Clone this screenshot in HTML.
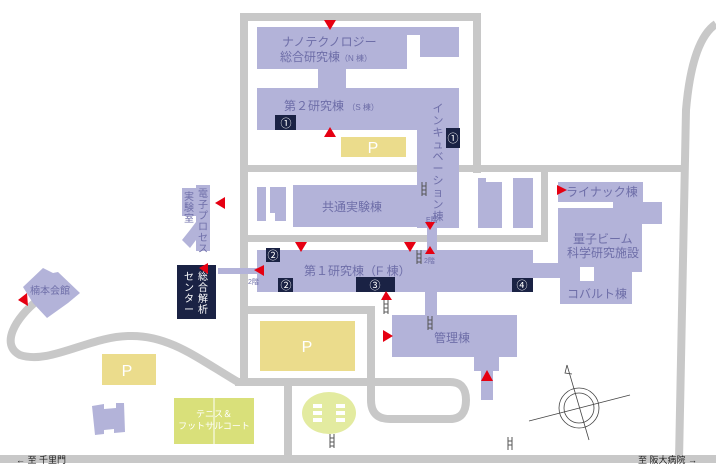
<!DOCTYPE html>
<html><head><meta charset="utf-8"><style>
html,body{margin:0;padding:0;background:#fff}
svg{display:block}
text{font-family:"Liberation Sans","Noto Sans CJK JP",sans-serif}
</style></head><body>
<svg width="716" height="475" viewBox="0 0 716 475" xmlns="http://www.w3.org/2000/svg">
<rect width="716" height="475" fill="#fff"/>
<g fill="#c8c8c8">
<rect x="240" y="13" width="241" height="8"/>
<rect x="240" y="13" width="8" height="372"/>
<rect x="473" y="13" width="8" height="160"/>
<rect x="248" y="165" width="300" height="7"/>
<rect x="541" y="165" width="7" height="76"/>
<rect x="248" y="235" width="300" height="7"/>
<rect x="248" y="306" width="127" height="8"/>
<rect x="548" y="165" width="134" height="7"/>
<rect x="235" y="378" width="140" height="8"/>
<rect x="284" y="385" width="8" height="72"/>
<rect x="0" y="455" width="716" height="8"/>
</g>
<g fill="none" stroke="#c8c8c8" stroke-width="8">
<path d="M371,306 L371,400 Q371,419 390,419 L450,419 Q466,419 466,400 Q466,382 450,382 L375,382"/>
<path d="M238,382 C200,360 170,335 130,336 C90,336 50,365 20,355 C0,345 15,318 38,300"/>
<path d="M716,24 Q692,40 686,110 L679,460"/>
</g>
<g fill="#ebdc8c">
<rect x="341" y="137" width="65" height="20"/>
<rect x="260" y="321" width="95" height="50"/>
<rect x="102" y="354" width="54" height="31"/>
</g>
<g fill="#fff" font-size="16" text-anchor="middle">
<text x="373" y="153">P</text><text x="307" y="352">P</text><text x="127" y="376">P</text>
</g>
<rect x="174" y="398" width="80" height="46" fill="#d9e07a"/>
<line x1="214" y1="398" x2="214" y2="444" stroke="#fff"/>
<text x="214" y="417" font-size="9" fill="#fff" text-anchor="middle">テニス＆</text>
<text x="214" y="429" font-size="9" fill="#fff" text-anchor="middle">フットサルコート</text>
<ellipse cx="329" cy="413" rx="27" ry="21" fill="#e3eba0"/>
<g fill="#fff"><rect x="313" y="404" width="9" height="4"/><rect x="336" y="404" width="9" height="4"/><rect x="313" y="411" width="9" height="4"/><rect x="336" y="411" width="9" height="4"/><rect x="313" y="418" width="9" height="4"/><rect x="336" y="418" width="9" height="4"/></g>
<g fill="#b3b3d9">
<rect x="257" y="27" width="150" height="42"/>
<rect x="257" y="27" width="202" height="8"/>
<rect x="420" y="27" width="39" height="30"/>
<rect x="318" y="69" width="28" height="20"/>
<rect x="257" y="88" width="202" height="42"/>
<rect x="417" y="88" width="42" height="140"/>
<rect x="427" y="226" width="10" height="26"/>
<rect x="293" y="185" width="124" height="42"/>
<rect x="257" y="187" width="9" height="34"/>
<rect x="270" y="187" width="16" height="34"/>
<rect x="478" y="178" width="24" height="50"/>
<rect x="513" y="178" width="20" height="50"/>
<rect x="558" y="182" width="85" height="20"/>
<rect x="613" y="202" width="49" height="22"/>
<rect x="558" y="208" width="84" height="64"/>
<rect x="560" y="272" width="72" height="32"/>
<rect x="257" y="250" width="276" height="42"/>
<rect x="530" y="263" width="32" height="15"/>
<rect x="425" y="292" width="12" height="24"/>
<rect x="392" y="315" width="125" height="42"/>
<rect x="474" y="357" width="25" height="14"/>
<rect x="481" y="370" width="12" height="30"/>
<rect x="218" y="268" width="40" height="6"/>
<rect x="196" y="185" width="14" height="66"/>
<rect x="182" y="188" width="14" height="28"/>
<polygon points="196,222 196,240 190,248 182,240 190,230"/>
<polygon points="23,287 43,268 53,273 58,272 80,293 68,303 47,318 33,303"/>
<polygon points="92,406 104,404 104,409 116,408 116,403 124,403 125,432 114,433 114,429 104,430 104,434 95,435"/>
</g>
<g fill="#fff"><rect x="580" y="267" width="14" height="14"/><rect x="486" y="178" width="16" height="4"/><rect x="270" y="213" width="5" height="8"/></g>
<g fill="#1a2244">
<rect x="177" y="265" width="39" height="54"/>
<rect x="275" y="115" width="21" height="15"/>
<rect x="446" y="128" width="14" height="20"/>
<rect x="266" y="248" width="14" height="14"/>
<rect x="278" y="278" width="15" height="14"/>
<rect x="356" y="277" width="39" height="15"/>
<rect x="512" y="278" width="21" height="14"/>
</g>
<g fill="#fff" font-size="11" text-anchor="middle">
<text x="286" y="127">①</text><text x="453" y="142">①</text><text x="273" y="259">②</text><text x="286" y="289">②</text><text x="375" y="289">③</text><text x="522" y="289">④</text>
</g>
<g fill="#fff" font-size="10" text-anchor="middle">
<text x="203" y="280">総</text><text x="203" y="291">合</text><text x="203" y="302">解</text><text x="203" y="313">析</text>
<text x="189" y="280">セ</text><text x="189" y="291">ン</text><text x="189" y="302">タ</text><text x="189" y="313">ー</text>
</g>
<g fill="#6e6ea8" font-size="12">
<text x="282" y="46">ナノテクノロジー</text>
<text x="280" y="61">総合研究棟<tspan font-size="8">（N 棟）</tspan></text>
<text x="284" y="110">第２研究棟 <tspan font-size="8">（S 棟）</tspan></text>
<text x="322" y="211">共通実験棟</text>
<text x="304" y="275">第１研究棟（F 棟）</text>
<text x="434" y="342">管理棟</text>
<text x="566" y="196">ライナック棟</text>
<text x="573" y="243">量子ビーム</text>
<text x="567" y="257">科学研究施設</text>
<text x="567" y="298">コバルト棟</text>
<text x="30" y="294" font-size="10">楠本会館</text>
</g>
<g fill="#6e6ea8" font-size="11" text-anchor="middle">
<text x="438" y="112">イ</text><text x="438" y="124">ン</text><text x="438" y="136">キ</text><text x="438" y="148">ュ</text><text x="438" y="160">ベ</text><text x="438" y="172">ー</text><text x="438" y="184">シ</text><text x="438" y="196">ョ</text><text x="438" y="208">ン</text><text x="438" y="220">棟</text>
<text x="203" y="197" font-size="10">電</text><text x="203" y="208" font-size="10">子</text><text x="203" y="219" font-size="10">プ</text><text x="203" y="230" font-size="10">ロ</text><text x="203" y="241" font-size="10">セ</text><text x="203" y="252" font-size="10">ス</text>
<text x="189" y="200" font-size="10">実</text><text x="189" y="211" font-size="10">験</text><text x="189" y="222" font-size="10">室</text>
</g>
<g fill="#6e6ea8" font-size="7"><text x="426" y="222">E階</text><text x="424" y="263">2階</text><text x="248" y="284">2階</text></g>
<g stroke="#555" stroke-width="1" fill="none">
<path d="M422,182v14M426,182v14M422,186h4M422,190h4M422,194h4"/>
<path d="M417,250v14M421,250v14M417,254h4M417,258h4M417,262h4"/>
<path d="M384,300v14M388,300v14M384,304h4M384,308h4M384,312h4"/>
<path d="M428,316v14M432,316v14M428,320h4M428,324h4M428,328h4"/>
<path d="M330,434v14M334,434v14M330,438h4M330,442h4M330,446h4"/>
<path d="M508,437v13M512,437v13M508,441h4M508,445h4"/>
</g>
<g stroke="#444" stroke-width="0.8" fill="none">
<circle cx="579" cy="408" r="20"/><circle cx="579" cy="408" r="15"/>
<line x1="529" y1="421" x2="630" y2="395"/><line x1="567" y1="365" x2="589" y2="440"/>
<path d="M567,365 L565,373 L572,374"/>
</g>
<g fill="#e60012">
<polygon points="324,20 336,20 330,30"/>
<polygon points="324,137 336,137 330,127"/>
<polygon points="425,222 435,222 430,230"/>
<polygon points="425,254 435,254 430,246"/>
<polygon points="295,242 307,242 301,252"/>
<polygon points="404,242 416,242 410,252"/>
<polygon points="381,300 392,300 386,291"/>
<polygon points="383,330 383,342 393,336"/>
<polygon points="481,381 493,381 487,370"/>
<polygon points="225,197 225,209 215,203"/>
<polygon points="208,263 208,274 199,268"/>
<polygon points="264,265 264,276 254,270"/>
<polygon points="557,185 557,195 567,190"/>
<polygon points="18,300 27,293 28,306"/>
</g>
<g fill="#222" font-size="9">
<text x="16" y="463">←  至  千里門</text>
<text x="638" y="463">至  阪大病院  →</text>
</g>
</svg>
</body></html>
